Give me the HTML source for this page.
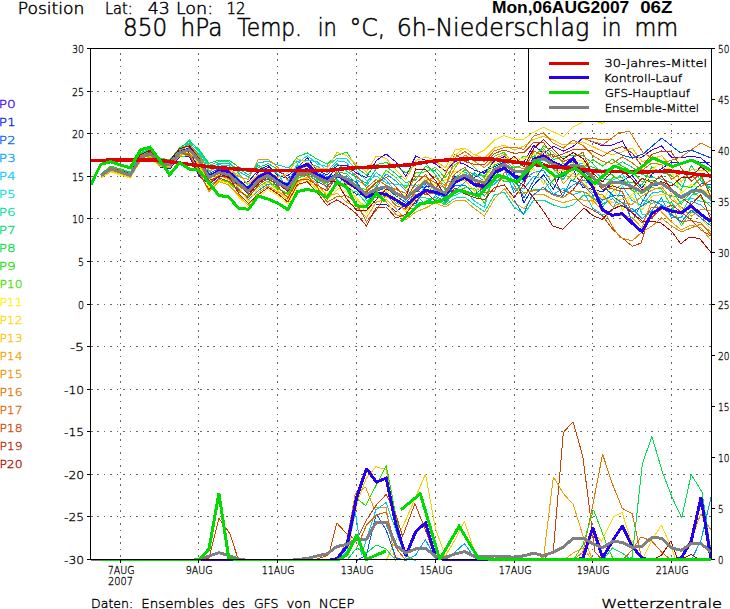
<!DOCTYPE html>
<html><head><meta charset="utf-8"><style>html,body{margin:0;padding:0;background:#fff;overflow:hidden}svg{display:block}</style></head>
<body><svg width="730" height="609" viewBox="0 0 730 609">
<rect width="730" height="609" fill="#fff"/>
<g stroke="#646464" stroke-width="1" stroke-dasharray="1.6 4.84" shape-rendering="crispEdges"><line x1="91" y1="516.5" x2="711" y2="516.5"/><line x1="91" y1="474.5" x2="711" y2="474.5"/><line x1="91" y1="431.5" x2="711" y2="431.5"/><line x1="91" y1="389.5" x2="711" y2="389.5"/><line x1="91" y1="346.5" x2="711" y2="346.5"/><line x1="91" y1="304.5" x2="711" y2="304.5"/><line x1="91" y1="261.5" x2="711" y2="261.5"/><line x1="91" y1="218.5" x2="711" y2="218.5"/><line x1="91" y1="176.5" x2="711" y2="176.5"/><line x1="91" y1="133.5" x2="711" y2="133.5"/><line x1="91" y1="91.5" x2="711" y2="91.5"/></g>
<g stroke="#646464" stroke-width="1" stroke-dasharray="1.6 4.84" shape-rendering="crispEdges"><line x1="120.5" y1="53" x2="120.5" y2="559"/><line x1="198.5" y1="53" x2="198.5" y2="559"/><line x1="277.5" y1="53" x2="277.5" y2="559"/><line x1="356.5" y1="53" x2="356.5" y2="559"/><line x1="435.5" y1="53" x2="435.5" y2="559"/><line x1="514.5" y1="53" x2="514.5" y2="559"/><line x1="592.5" y1="53" x2="592.5" y2="559"/><line x1="671.5" y1="53" x2="671.5" y2="559"/></g>
<defs><clipPath id="plotclip"><rect x="91" y="49" width="620" height="512"/></clipPath></defs><g clip-path="url(#plotclip)" shape-rendering="crispEdges"><polyline points="100.8,176.7 110.7,170.2 120.5,173.2 130.3,175.8 140.2,160.5 150.0,157.5 159.9,166.0 169.7,169.0 179.5,157.0 189.4,156.5 199.2,176.0 209.0,184.5 218.9,176.2 228.7,174.7 238.6,183.6 248.4,187.7 258.2,172.3 268.1,167.3 277.9,171.6 287.8,175.7 297.6,167.6 307.4,157.9 317.3,170.4 327.1,174.8 337.0,165.9 346.8,165.5 356.6,173.1 366.5,177.8 376.3,160.4 386.2,154.0 396.0,162.0 405.8,176.3 415.7,156.0 425.5,160.3 435.3,163.8 445.2,171.3 455.0,161.3 464.9,164.4 474.7,170.2 484.5,173.3 494.4,160.9 504.2,156.7 514.1,161.5 523.9,161.7 533.7,145.5 543.6,153.4 553.4,146.3 563.3,151.1 573.1,146.5 582.9,138.0 592.8,142.0 602.6,146.0 612.4,145.0 622.3,141.0 632.1,158.1 642.0,157.0 651.8,150.0 661.6,146.0 671.5,157.1 681.3,158.0 691.2,156.0 701.0,158.0 710.8,166.8" fill="none" stroke="#3c00ff" stroke-width="1" stroke-linejoin="miter" stroke-miterlimit="2"/>
<polyline points="100.8,176.1 110.7,170.9 120.5,174.2 130.3,176.6 140.2,159.6 150.0,155.2 159.9,167.0 169.7,168.5 179.5,156.0 189.4,152.3 199.2,168.4 209.0,178.1 218.9,173.0 228.7,177.7 238.6,184.6 248.4,181.7 258.2,170.1 268.1,165.5 277.9,175.6 287.8,178.2 297.6,171.1 307.4,168.2 317.3,177.5 327.1,178.3 337.0,168.2 346.8,186.8 356.6,194.3 366.5,194.4 376.3,204.5 386.2,204.3 396.0,211.6 405.8,204.5 415.7,203.6 425.5,186.8 435.3,187.2 445.2,193.0 455.0,176.1 464.9,177.9 474.7,177.2 484.5,170.6 494.4,166.9 504.2,162.1 514.1,172.5 523.9,203.3 533.7,185.1 543.6,174.7 553.4,189.4 563.3,168.3 573.1,169.6 582.9,187.3 592.8,189.3 602.6,192.0 612.4,182.2 622.3,180.6 632.1,175.5 642.0,188.0 651.8,174.3 661.6,168.7 671.5,162.0 681.3,163.3 691.2,160.7 701.0,162.3 710.8,162.0" fill="none" stroke="#0020ff" stroke-width="1" stroke-linejoin="miter" stroke-miterlimit="2"/>
<polyline points="100.8,176.2 110.7,169.2 120.5,172.0 130.3,175.2 140.2,157.4 150.0,154.0 159.9,162.8 169.7,164.7 179.5,153.2 189.4,149.6 199.2,159.4 209.0,173.4 218.9,168.9 228.7,173.0 238.6,181.2 248.4,189.3 258.2,180.3 268.1,179.5 277.9,183.9 287.8,190.4 297.6,175.2 307.4,173.8 317.3,181.9 327.1,186.4 337.0,177.6 346.8,177.8 356.6,182.0 366.5,195.8 376.3,191.3 386.2,187.6 396.0,196.1 405.8,202.5 415.7,192.5 425.5,184.6 435.3,194.2 445.2,197.1 455.0,185.7 464.9,185.0 474.7,194.4 484.5,186.9 494.4,177.9 504.2,165.5 514.1,178.0 523.9,198.1 533.7,180.5 543.6,166.6 553.4,166.0 563.3,176.1 573.1,166.8 582.9,170.5 592.8,178.7 602.6,184.6 612.4,195.1 622.3,195.2 632.1,222.0 642.0,202.4 651.8,185.6 661.6,184.7 671.5,191.7 681.3,199.0 691.2,193.0 701.0,183.9 710.8,184.2" fill="none" stroke="#0060ff" stroke-width="1" stroke-linejoin="miter" stroke-miterlimit="2"/>
<polyline points="100.8,175.6 110.7,169.0 120.5,172.1 130.3,174.6 140.2,156.0 150.0,152.8 159.9,161.0 169.7,163.9 179.5,152.0 189.4,149.9 199.2,160.2 209.0,177.5 218.9,172.6 228.7,175.2 238.6,188.5 248.4,199.5 258.2,190.6 268.1,184.0 277.9,185.0 287.8,187.8 297.6,176.9 307.4,171.1 317.3,172.2 327.1,176.6 337.0,184.5 346.8,175.9 356.6,185.3 366.5,193.4 376.3,187.4 386.2,173.9 396.0,181.0 405.8,190.9 415.7,194.3 425.5,204.5 435.3,195.8 445.2,201.6 455.0,190.3 464.9,182.4 474.7,172.7 484.5,182.1 494.4,170.6 504.2,167.5 514.1,193.2 523.9,180.2 533.7,172.2 543.6,170.5 553.4,184.7 563.3,192.8 573.1,185.1 582.9,179.8 592.8,186.2 602.6,204.1 612.4,198.7 622.3,206.5 632.1,208.5 642.0,218.6 651.8,210.9 661.6,197.8 671.5,217.8 681.3,217.6 691.2,201.2 701.0,205.1 710.8,214.8" fill="none" stroke="#00a0ff" stroke-width="1" stroke-linejoin="miter" stroke-miterlimit="2"/>
<polyline points="100.8,177.2 110.7,169.9 120.5,173.5 130.3,176.9 140.2,158.5 150.0,156.0 159.9,165.5 169.7,164.9 179.5,154.6 189.4,146.8 199.2,153.8 209.0,172.0 218.9,164.8 228.7,165.6 238.6,171.2 248.4,177.1 258.2,162.7 268.1,161.4 277.9,165.0 287.8,167.7 297.6,161.2 307.4,160.2 317.3,161.7 327.1,170.9 337.0,160.9 346.8,162.3 356.6,180.0 366.5,185.6 376.3,172.4 386.2,180.3 396.0,191.9 405.8,200.7 415.7,206.3 425.5,182.8 435.3,190.2 445.2,194.6 455.0,181.9 464.9,171.9 474.7,178.9 484.5,189.7 494.4,184.1 504.2,175.2 514.1,189.0 523.9,188.5 533.7,176.2 543.6,179.3 553.4,194.4 563.3,188.2 573.1,194.6 582.9,191.3 592.8,208.0 602.6,215.0 612.4,210.7 622.3,186.2 632.1,200.6 642.0,206.1 651.8,193.1 661.6,191.7 671.5,196.5 681.3,195.8 691.2,189.9 701.0,190.3 710.8,198.5" fill="none" stroke="#00c8ff" stroke-width="1" stroke-linejoin="miter" stroke-miterlimit="2"/>
<polyline points="100.8,174.5 110.7,166.4 120.5,169.4 130.3,172.8 140.2,154.3 150.0,149.6 159.9,160.5 169.7,161.9 179.5,149.9 189.4,142.5 199.2,152.4 209.0,167.1 218.9,166.3 228.7,167.3 238.6,178.4 248.4,190.6 258.2,179.4 268.1,174.7 277.9,181.6 287.8,182.6 297.6,163.5 307.4,155.5 317.3,164.0 327.1,166.5 337.0,158.1 346.8,159.0 356.6,170.5 366.5,180.6 376.3,176.0 386.2,183.0 396.0,184.2 405.8,185.6 415.7,186.1 425.5,181.6 435.3,191.4 445.2,198.5 455.0,195.4 464.9,190.8 474.7,201.2 484.5,207.5 494.4,168.3 504.2,163.4 514.1,185.1 523.9,170.6 533.7,162.6 543.6,160.3 553.4,164.2 563.3,167.3 573.1,165.0 582.9,163.4 592.8,170.4 602.6,178.4 612.4,180.5 622.3,174.3 632.1,186.8 642.0,214.2 651.8,215.0 661.6,204.6 671.5,209.9 681.3,201.3 691.2,198.1 701.0,201.2 710.8,203.2" fill="none" stroke="#00e0e0" stroke-width="1" stroke-linejoin="miter" stroke-miterlimit="2"/>
<polyline points="100.8,174.9 110.7,167.5 120.5,170.5 130.3,172.4 140.2,153.0 150.0,148.8 159.9,158.7 169.7,161.3 179.5,149.3 189.4,140.0 199.2,151.0 209.0,165.4 218.9,161.7 228.7,161.9 238.6,173.1 248.4,185.8 258.2,178.0 268.1,169.1 277.9,173.7 287.8,189.4 297.6,174.7 307.4,172.3 317.3,178.2 327.1,179.7 337.0,179.6 346.8,189.6 356.6,191.7 366.5,203.6 376.3,188.9 386.2,186.7 396.0,194.4 405.8,198.2 415.7,196.4 425.5,197.9 435.3,199.2 445.2,205.1 455.0,198.1 464.9,197.1 474.7,204.9 484.5,211.7 494.4,194.9 504.2,192.2 514.1,207.0 523.9,214.4 533.7,200.0 543.6,200.0 553.4,205.0 563.3,208.0 573.1,205.0 582.9,195.6 592.8,196.3 602.6,207.6 612.4,191.7 622.3,184.0 632.1,185.1 642.0,199.1 651.8,203.2 661.6,201.1 671.5,202.7 681.3,213.9 691.2,195.3 701.0,192.0 710.8,200.4" fill="none" stroke="#00e0a0" stroke-width="1" stroke-linejoin="miter" stroke-miterlimit="2"/>
<polyline points="100.8,174.2 110.7,166.8 120.5,169.8 130.3,173.2 140.2,156.5 150.0,151.0 159.9,159.9 169.7,163.0 179.5,151.0 189.4,143.7 199.2,155.1 209.0,168.9 218.9,163.3 228.7,163.8 238.6,169.1 248.4,174.6 258.2,165.3 268.1,170.7 277.9,179.0 287.8,184.6 297.6,165.6 307.4,164.5 317.3,166.3 327.1,172.9 337.0,163.5 346.8,171.2 356.6,177.9 366.5,183.2 376.3,168.6 386.2,166.5 396.0,174.0 405.8,182.6 415.7,180.1 425.5,166.4 435.3,170.9 445.2,183.2 455.0,179.5 464.9,175.0 474.7,185.6 484.5,196.1 494.4,180.9 504.2,178.3 514.1,169.8 523.9,173.7 533.7,165.4 543.6,158.4 553.4,168.8 563.3,179.8 573.1,163.9 582.9,165.4 592.8,167.1 602.6,170.6 612.4,167.6 622.3,161.7 632.1,167.3 642.0,174.4 651.8,177.5 661.6,179.1 671.5,182.8 681.3,189.8 691.2,165.2 701.0,180.9 710.8,187.9" fill="none" stroke="#00d870" stroke-width="1" stroke-linejoin="miter" stroke-miterlimit="2"/>
<polyline points="100.8,174.0 110.7,166.0 120.5,169.0 130.3,172.0 140.2,153.7 150.0,148.0 159.9,158.0 169.7,160.0 179.5,148.0 189.4,141.3 199.2,149.5 209.0,163.5 218.9,160.0 228.7,160.0 238.6,167.0 248.4,172.0 258.2,167.8 268.1,163.5 277.9,169.5 287.8,170.5 297.6,156.5 307.4,153.0 317.3,159.3 327.1,164.2 337.0,155.3 346.8,152.0 356.6,167.8 366.5,175.0 376.3,164.6 386.2,162.5 396.0,166.1 405.8,173.0 415.7,164.8 425.5,163.4 435.3,174.2 445.2,190.2 455.0,178.2 464.9,169.7 474.7,175.1 484.5,175.9 494.4,165.1 504.2,160.5 514.1,168.2 523.9,164.3 533.7,156.0 543.6,148.4 553.4,159.4 563.3,156.6 573.1,155.2 582.9,155.4 592.8,163.5 602.6,174.7 612.4,174.9 622.3,182.5 632.1,182.4 642.0,185.1 651.8,167.0 661.6,172.5 671.5,175.3 681.3,186.1 691.2,187.5 701.0,177.6 710.8,191.3" fill="none" stroke="#00e040" stroke-width="1" stroke-linejoin="miter" stroke-miterlimit="2"/>
<polyline points="100.8,177.4 110.7,171.2 120.5,174.6 130.3,176.3 140.2,159.2 150.0,155.6 159.9,164.6 169.7,166.1 179.5,153.8 189.4,147.7 199.2,157.4 209.0,174.7 218.9,170.1 228.7,171.8 238.6,179.9 248.4,191.5 258.2,181.0 268.1,177.0 277.9,187.6 287.8,194.7 297.6,179.1 307.4,171.9 317.3,179.2 327.1,184.4 337.0,172.1 346.8,173.7 356.6,183.8 366.5,200.6 376.3,197.2 386.2,192.6 396.0,203.0 405.8,206.8 415.7,209.1 425.5,201.1 435.3,197.5 445.2,203.4 455.0,192.8 464.9,187.8 474.7,188.3 484.5,203.5 494.4,175.1 504.2,181.5 514.1,181.4 523.9,193.2 533.7,189.8 543.6,189.2 553.4,180.2 563.3,172.8 573.1,180.7 582.9,168.2 592.8,159.6 602.6,166.1 612.4,159.2 622.3,166.2 632.1,171.6 642.0,181.8 651.8,180.3 661.6,183.4 671.5,190.3 681.3,204.0 691.2,191.5 701.0,197.7 710.8,206.7" fill="none" stroke="#20e000" stroke-width="1" stroke-linejoin="miter" stroke-miterlimit="2"/>
<polyline points="100.8,175.9 110.7,169.1 120.5,171.9 130.3,175.5 140.2,158.8 150.0,154.5 159.9,163.2 169.7,167.0 179.5,156.5 189.4,155.6 199.2,170.2 209.0,186.1 218.9,179.3 228.7,182.3 238.6,191.6 248.4,196.1 258.2,186.9 268.1,180.9 277.9,189.0 287.8,193.1 297.6,178.0 307.4,174.7 317.3,180.5 327.1,182.8 337.0,173.7 346.8,179.0 356.6,186.2 366.5,190.0 376.3,185.2 386.2,170.3 396.0,177.6 405.8,188.3 415.7,172.9 425.5,171.9 435.3,167.4 445.2,177.6 455.0,164.7 464.9,158.3 474.7,167.5 484.5,178.2 494.4,156.1 504.2,152.4 514.1,164.0 523.9,155.9 533.7,158.1 543.6,145.7 553.4,152.1 563.3,163.7 573.1,162.2 582.9,166.7 592.8,180.8 602.6,187.7 612.4,178.0 622.3,177.8 632.1,190.8 642.0,193.6 651.8,187.7 661.6,189.0 671.5,206.2 681.3,225.7 691.2,212.2 701.0,213.6 710.8,224.1" fill="none" stroke="#40e000" stroke-width="1" stroke-linejoin="miter" stroke-miterlimit="2"/>
<polyline points="100.8,178.0 110.7,172.0 120.5,175.0 130.3,178.0 140.2,160.0 150.0,154.8 159.9,164.2 169.7,165.4 179.5,155.0 189.4,151.6 199.2,163.7 209.0,187.9 218.9,180.5 228.7,183.6 238.6,197.0 248.4,207.5 258.2,197.0 268.1,189.4 277.9,195.6 287.8,204.0 297.6,185.9 307.4,180.4 317.3,188.8 327.1,193.6 337.0,187.3 346.8,192.5 356.6,197.1 366.5,213.9 376.3,193.1 386.2,190.7 396.0,198.2 405.8,195.3 415.7,188.5 425.5,178.8 435.3,185.3 445.2,180.5 455.0,170.9 464.9,173.8 474.7,180.0 484.5,180.3 494.4,163.1 504.2,158.7 514.1,158.9 523.9,158.9 533.7,153.7 543.6,157.3 553.4,161.4 563.3,165.6 573.1,160.1 582.9,161.1 592.8,183.3 602.6,200.8 612.4,183.7 622.3,210.7 632.1,193.7 642.0,192.0 651.8,170.8 661.6,160.3 671.5,171.1 681.3,193.1 691.2,184.5 701.0,188.9 710.8,194.3" fill="none" stroke="#fff000" stroke-width="1" stroke-linejoin="miter" stroke-miterlimit="2"/>
<polyline points="100.8,176.9 110.7,170.6 120.5,172.9 130.3,177.3 140.2,161.0 150.0,158.0 159.9,166.5 169.7,166.5 179.5,152.4 189.4,149.2 199.2,166.7 209.0,181.6 218.9,174.4 228.7,179.9 238.6,187.1 248.4,201.4 258.2,188.7 268.1,182.4 277.9,190.6 287.8,200.0 297.6,183.0 307.4,178.0 317.3,190.8 327.1,199.2 337.0,190.2 346.8,180.2 356.6,200.1 366.5,206.8 376.3,195.0 386.2,196.9 396.0,200.5 405.8,211.7 415.7,198.6 425.5,189.3 435.3,188.5 445.2,193.6 455.0,180.5 464.9,180.0 474.7,191.3 484.5,183.2 494.4,169.3 504.2,169.8 514.1,175.0 523.9,176.7 533.7,168.6 543.6,184.1 553.4,172.2 563.3,170.1 573.1,176.6 582.9,173.3 592.8,203.9 602.6,197.6 612.4,202.5 622.3,198.8 632.1,197.0 642.0,210.1 651.8,196.3 661.6,194.6 671.5,193.9 681.3,210.3 691.2,208.3 701.0,218.2 710.8,229.2" fill="none" stroke="#ffd800" stroke-width="1" stroke-linejoin="miter" stroke-miterlimit="2"/>
<polyline points="100.8,177.7 110.7,171.6 120.5,173.9 130.3,177.6 140.2,161.5 150.0,156.5 159.9,163.5 169.7,167.4 179.5,154.2 189.4,150.4 199.2,165.1 209.0,179.1 218.9,172.0 228.7,168.9 238.6,175.0 248.4,183.9 258.2,174.4 268.1,172.2 277.9,177.3 287.8,173.2 297.6,158.9 307.4,162.4 317.3,168.4 327.1,168.8 337.0,152.3 346.8,155.6 356.6,165.0 366.5,172.0 376.3,156.0 386.2,158.3 396.0,170.1 405.8,179.6 415.7,160.5 425.5,157.0 435.3,160.0 445.2,168.0 455.0,150.0 464.9,148.0 474.7,155.0 484.5,158.0 494.4,148.0 504.2,145.0 514.1,150.2 523.9,146.0 533.7,139.3 543.6,136.4 553.4,140.0 563.3,145.0 573.1,143.3 582.9,141.8 592.8,146.7 602.6,151.4 612.4,154.7 622.3,151.8 632.1,148.0 642.0,161.6 651.8,158.9 661.6,155.7 671.5,166.6 681.3,182.1 691.2,169.6 701.0,170.3 710.8,171.5" fill="none" stroke="#ffc000" stroke-width="1" stroke-linejoin="miter" stroke-miterlimit="2"/>
<polyline points="100.8,175.8 110.7,169.7 120.5,172.3 130.3,176.0 140.2,162.0 150.0,157.0 159.9,165.0 169.7,167.9 179.5,155.5 189.4,153.1 199.2,172.0 209.0,191.5 218.9,181.7 228.7,185.0 238.6,195.1 248.4,205.4 258.2,192.7 268.1,185.8 277.9,192.2 287.8,196.4 297.6,181.6 307.4,176.8 317.3,183.5 327.1,196.3 337.0,193.3 346.8,202.4 356.6,206.8 366.5,217.8 376.3,201.9 386.2,199.2 396.0,208.6 405.8,220.0 415.7,212.0 425.5,208.0 435.3,203.0 445.2,207.0 455.0,201.0 464.9,200.5 474.7,208.7 484.5,216.0 494.4,198.8 504.2,188.5 514.1,202.2 523.9,208.8 533.7,194.8 543.6,194.5 553.4,199.6 563.3,202.7 573.1,199.7 582.9,200.0 592.8,200.0 602.6,211.2 612.4,215.0 622.3,215.0 632.1,217.3 642.0,228.0 651.8,199.7 661.6,212.0 671.5,222.0 681.3,230.0 691.2,225.0 701.0,228.0 710.8,240.0" fill="none" stroke="#f0a000" stroke-width="1" stroke-linejoin="miter" stroke-miterlimit="2"/>
<polyline points="100.8,176.4 110.7,168.7 120.5,171.7 130.3,174.8 140.2,157.8 150.0,152.3 159.9,163.0 169.7,164.3 179.5,151.5 189.4,144.8 199.2,156.3 209.0,170.5 218.9,167.7 228.7,170.4 238.6,176.7 248.4,179.5 258.2,160.0 268.1,159.3 277.9,167.3 287.8,180.5 297.6,169.4 307.4,166.4 317.3,173.9 327.1,181.7 337.0,174.7 346.8,184.3 356.6,187.4 366.5,198.0 376.3,189.8 386.2,201.7 396.0,214.7 405.8,217.1 415.7,191.0 425.5,180.5 435.3,177.3 445.2,185.7 455.0,167.9 464.9,155.0 474.7,161.5 484.5,167.6 494.4,158.6 504.2,154.6 514.1,166.2 523.9,168.9 533.7,159.8 543.6,151.0 553.4,163.1 563.3,183.9 573.1,172.9 582.9,183.4 592.8,192.7 602.6,194.7 612.4,206.5 622.3,202.6 632.1,204.5 642.0,196.1 651.8,190.3 661.6,186.7 671.5,199.5 681.3,207.0 691.2,216.3 701.0,209.2 710.8,210.5" fill="none" stroke="#f09000" stroke-width="1" stroke-linejoin="miter" stroke-miterlimit="2"/>
<polyline points="100.8,174.7 110.7,167.2 120.5,170.1 130.3,173.9 140.2,155.5 150.0,153.3 159.9,162.4 169.7,162.4 179.5,152.8 189.4,153.9 199.2,161.4 209.0,183.0 218.9,175.2 228.7,178.7 238.6,185.8 248.4,193.3 258.2,176.3 268.1,175.4 277.9,182.4 287.8,186.3 297.6,172.6 307.4,173.0 317.3,175.4 327.1,188.6 337.0,170.3 346.8,168.4 356.6,175.6 366.5,187.9 376.3,179.4 386.2,185.2 396.0,189.7 405.8,193.2 415.7,176.7 425.5,176.8 435.3,182.9 445.2,188.1 455.0,157.7 464.9,151.6 474.7,158.3 484.5,161.3 494.4,150.8 504.2,147.6 514.1,147.0 523.9,149.4 533.7,136.0 543.6,133.0 553.4,143.2 563.3,148.1 573.1,140.0 582.9,145.5 592.8,155.5 602.6,161.4 612.4,163.5 622.3,156.9 632.1,162.8 642.0,170.4 651.8,163.1 661.6,164.6 671.5,179.2 681.3,173.1 691.2,173.7 701.0,186.6 710.8,180.2" fill="none" stroke="#e07000" stroke-width="1" stroke-linejoin="miter" stroke-miterlimit="2"/>
<polyline points="100.8,175.1 110.7,168.2 120.5,171.4 130.3,175.1 140.2,158.0 150.0,154.2 159.9,163.8 169.7,165.1 179.5,150.5 189.4,148.5 199.2,160.7 209.0,175.9 218.9,171.2 228.7,174.0 238.6,183.0 248.4,192.2 258.2,182.2 268.1,173.6 277.9,180.4 287.8,188.7 297.6,176.0 307.4,175.7 317.3,187.0 327.1,202.3 337.0,196.5 346.8,195.7 356.6,203.4 366.5,221.8 376.3,210.0 386.2,194.7 396.0,205.7 405.8,209.1 415.7,190.0 425.5,194.8 435.3,192.7 445.2,191.9 455.0,173.7 464.9,167.2 474.7,181.3 484.5,192.7 494.4,191.1 504.2,172.4 514.1,170.9 523.9,171.8 533.7,151.1 543.6,155.5 553.4,154.7 563.3,161.5 573.1,157.7 582.9,152.3 592.8,175.7 602.6,186.4 612.4,188.7 622.3,191.9 632.1,212.8 642.0,223.2 651.8,207.0 661.6,208.2 671.5,213.8 681.3,221.6 691.2,220.6 701.0,223.0 710.8,234.5" fill="none" stroke="#e06000" stroke-width="1" stroke-linejoin="miter" stroke-miterlimit="2"/>
<polyline points="100.8,175.3 110.7,168.5 120.5,171.1 130.3,174.3 140.2,157.0 150.0,153.7 159.9,162.0 169.7,165.7 179.5,153.5 189.4,154.7 199.2,174.0 209.0,189.6 218.9,178.2 228.7,181.1 238.6,190.0 248.4,197.8 258.2,185.1 268.1,178.2 277.9,186.2 287.8,198.2 297.6,180.3 307.4,179.2 317.3,185.2 327.1,191.0 337.0,175.8 346.8,182.1 356.6,189.4 366.5,191.8 376.3,182.4 386.2,177.2 396.0,187.1 405.8,199.2 415.7,183.3 425.5,174.5 435.3,189.1 445.2,174.5 455.0,153.9 464.9,161.5 474.7,164.6 484.5,164.6 494.4,153.5 504.2,150.0 514.1,153.2 523.9,152.7 533.7,142.5 543.6,142.7 553.4,157.2 563.3,153.9 573.1,149.6 582.9,149.0 592.8,151.2 602.6,156.5 612.4,149.9 622.3,146.5 632.1,153.1 642.0,166.1 651.8,154.5 661.6,151.0 671.5,152.0 681.3,168.3 691.2,181.2 701.0,174.1 710.8,196.9" fill="none" stroke="#d04000" stroke-width="1" stroke-linejoin="miter" stroke-miterlimit="2"/>
<polyline points="100.8,175.7 110.7,169.4 120.5,172.6 130.3,175.3 140.2,158.2 150.0,151.6 159.9,161.5 169.7,163.5 179.5,153.0 189.4,151.0 199.2,162.4 209.0,180.3 218.9,177.2 228.7,175.9 238.6,193.4 248.4,203.3 258.2,194.8 268.1,187.5 277.9,193.8 287.8,202.0 297.6,184.4 307.4,181.7 317.3,192.8 327.1,205.4 337.0,199.8 346.8,206.0 356.6,214.0 366.5,226.0 376.3,207.2 386.2,207.0 396.0,218.0 405.8,214.3 415.7,201.0 425.5,192.0 435.3,201.1 445.2,200.0 455.0,187.9 464.9,193.9 474.7,197.7 484.5,199.7 494.4,187.5 504.2,184.9 514.1,197.6 523.9,184.2 533.7,160.9 543.6,163.1 553.4,176.0 563.3,197.7 573.1,189.7 582.9,176.4 592.8,177.3 602.6,189.7 612.4,185.9 622.3,188.9 632.1,188.4 642.0,178.3 651.8,182.7 661.6,176.0 671.5,188.6 681.3,197.6 691.2,204.6 701.0,194.6 710.8,219.3" fill="none" stroke="#c02000" stroke-width="1" stroke-linejoin="miter" stroke-miterlimit="2"/>
<polyline points="100.8,175.4 110.7,167.9 120.5,170.8 130.3,173.6 140.2,154.9 150.0,150.3 159.9,159.3 169.7,160.6 179.5,148.7 189.4,145.8 199.2,158.5 209.0,176.9 218.9,173.6 228.7,176.7 238.6,182.3 248.4,194.6 258.2,183.6 268.1,176.0 277.9,183.0 287.8,191.7 297.6,173.9 307.4,169.7 317.3,176.7 327.1,180.9 337.0,182.0 346.8,199.0 356.6,210.3 366.5,210.3 376.3,199.5 386.2,189.0 396.0,193.3 405.8,197.1 415.7,169.0 425.5,169.3 435.3,180.2 445.2,195.8 455.0,183.7 464.9,176.1 474.7,183.3 484.5,184.7 494.4,172.7 504.2,164.3 514.1,156.1 523.9,166.7 533.7,148.4 543.6,139.6 553.4,149.2 563.3,159.2 573.1,152.5 582.9,158.4 592.8,173.3 602.6,181.8 612.4,171.4 622.3,170.5 632.1,179.2 642.0,190.4 651.8,184.2 661.6,181.7 671.5,185.9 681.3,177.7 691.2,177.6 701.0,166.4 710.8,175.9" fill="none" stroke="#b00000" stroke-width="1" stroke-linejoin="miter" stroke-miterlimit="2"/>
<polyline points="435.3,160.0 445.2,172.5 455.0,155.0 464.9,148.0 474.7,155.0 484.5,150.0 494.4,140.0 504.2,135.6 514.1,139.0 523.9,139.0 533.7,132.0 543.6,127.4 553.4,132.0 563.3,136.7 573.1,127.0 582.9,122.0 592.8,120.7 602.6,123.3 612.4,118.0 622.3,115.0" fill="none" stroke="#f0e000" stroke-width="1" stroke-linejoin="miter" stroke-miterlimit="2"/>
<polyline points="504.2,178.0 514.1,180.0 523.9,185.0 529.9,193.1 544.6,212.8 552.8,226.0 562.7,229.3 574.2,217.8 584.0,207.9 592.2,215.3 602.1,219.4 612.0,209.6 622.0,205.0 642.8,221.4 660.0,222.2 672.0,231.7 680.7,243.8 689.3,237.0 699.7,238.6 710.9,252.4" fill="none" stroke="#b00000" stroke-width="1" stroke-linejoin="miter" stroke-miterlimit="2"/>
<polyline points="563.3,190.0 573.1,195.0 582.9,205.0 592.8,210.0 602.6,216.0 612.4,229.0 622.3,238.0 632.4,246.4 641.0,243.0 648.0,221.0 660.0,210.0 672.0,205.0 681.0,212.0 691.0,220.0 701.0,230.0 711.0,236.0" fill="none" stroke="#d04000" stroke-width="1" stroke-linejoin="miter" stroke-miterlimit="2"/>
<polyline points="514.1,185.0 520.0,194.0 529.9,191.5 543.0,189.0 552.8,194.8 562.7,198.0 572.5,190.7 585.7,192.3 602.1,206.3 612.0,226.0 620.0,237.5 632.0,241.0 642.0,232.0 652.0,226.0 661.6,218.0 671.5,226.0 681.3,232.0 691.0,228.0 701.0,224.0 711.0,232.0" fill="none" stroke="#e08000" stroke-width="1" stroke-linejoin="miter" stroke-miterlimit="2"/>
<polyline points="514.1,200.0 520.0,209.6 523.3,214.5 531.5,196.4 543.0,187.4 552.8,194.0 562.7,196.4 570.9,180.0 582.9,185.0 592.8,195.0 602.6,200.0 612.4,196.0 622.3,203.0 632.1,212.0 642.0,206.0 651.8,200.0 661.6,205.0 671.5,215.0 681.3,222.0 691.2,210.0 701.0,218.0 711.0,226.0" fill="none" stroke="#0080ff" stroke-width="1" stroke-linejoin="miter" stroke-miterlimit="2"/>
<polyline points="612.4,140.0 581.5,138.0 602.9,144.7 619.0,132.7 629.6,131.4 643.0,152.8 652.0,158.0 662.0,163.0 672.0,160.0 681.0,157.0 691.0,150.0 701.0,143.0 711.0,148.0" fill="none" stroke="#e07000" stroke-width="1" stroke-linejoin="miter" stroke-miterlimit="2"/>
<polyline points="612.4,150.0 622.0,155.0 632.0,158.0 643.0,154.0 661.7,138.0 680.4,152.8 691.0,150.0 711.0,158.0" fill="none" stroke="#0050ff" stroke-width="1" stroke-linejoin="miter" stroke-miterlimit="2"/>
<polyline points="199.2,560.5 209.0,558.0 218.9,518.4 225.2,527.0 230.0,534.0 238.6,560.5" fill="none" stroke="#d04000" stroke-width="1" stroke-linejoin="miter" stroke-miterlimit="2"/>
<polyline points="337.0,560.5 347.0,555.0 357.4,501.5 366.5,478.0 375.9,466.7 386.2,469.7 396.0,526.0 405.8,556.0 415.7,560.5" fill="none" stroke="#ffc000" stroke-width="1" stroke-linejoin="miter" stroke-miterlimit="2"/>
<polyline points="386.1,560.5 396.0,540.0 405.8,520.0 415.7,497.0 425.5,474.0 435.3,528.0 445.2,556.0 455.0,540.0 464.4,521.0 474.7,552.0 484.5,560.5" fill="none" stroke="#f0d000" stroke-width="1" stroke-linejoin="miter" stroke-miterlimit="2"/>
<polyline points="337.0,560.5 346.8,553.0 355.4,497.4 365.6,505.6 376.3,485.0 386.2,465.6 396.4,518.0 404.6,555.0 415.7,560.5" fill="none" stroke="#20e000" stroke-width="1" stroke-linejoin="miter" stroke-miterlimit="2"/>
<polyline points="337.0,560.5 346.8,540.0 355.4,493.3 365.6,487.2 373.8,507.7 386.2,507.7 394.4,557.0 405.8,560.5" fill="none" stroke="#f09000" stroke-width="1" stroke-linejoin="miter" stroke-miterlimit="2"/>
<polyline points="307.4,560.5 317.3,559.0 328.7,554.9 336.9,523.0 347.2,534.4 356.6,540.0 366.5,520.0 376.3,505.0 386.2,494.4 396.0,515.0 402.6,536.4 414.9,503.6 425.5,530.0 434.6,556.0 445.2,560.5" fill="none" stroke="#d04000" stroke-width="1" stroke-linejoin="miter" stroke-miterlimit="2"/>
<polyline points="337.0,560.5 346.8,552.0 355.4,511.8 361.5,554.9 375.9,509.7 386.2,502.6 396.4,532.3 405.8,558.0 415.7,560.5" fill="none" stroke="#00c8ff" stroke-width="1" stroke-linejoin="miter" stroke-miterlimit="2"/>
<polyline points="356.6,560.5 366.5,555.0 376.3,513.8 386.1,530.0 396.0,558.0 405.8,560.5" fill="none" stroke="#0060ff" stroke-width="1" stroke-linejoin="miter" stroke-miterlimit="2"/>
<polyline points="405.8,560.5 415.7,555.0 425.4,539.5 435.3,558.0 445.2,560.5 455.0,552.0 464.4,543.6 474.7,558.0 484.5,560.5" fill="none" stroke="#00a0ff" stroke-width="1" stroke-linejoin="miter" stroke-miterlimit="2"/>
<polyline points="346.8,560.5 356.6,548.0 366.5,525.0 376.3,515.0 386.1,512.0 396.0,548.0 405.8,560.5" fill="none" stroke="#e06000" stroke-width="1" stroke-linejoin="miter" stroke-miterlimit="2"/>
<polyline points="346.8,560.5 356.6,548.0 366.5,553.0 376.3,545.0 386.1,549.0 396.0,560.5" fill="none" stroke="#00e040" stroke-width="1" stroke-linejoin="miter" stroke-miterlimit="2"/>
<polyline points="533.7,560.5 543.6,559.0 553.4,550.4 563.3,432.5 573.1,421.7 582.9,456.9 590.8,519.2 595.0,551.8 602.6,560.5" fill="none" stroke="#d04000" stroke-width="1" stroke-linejoin="miter" stroke-miterlimit="2"/>
<polyline points="533.7,560.5 543.6,557.2 553.4,476.7 563.3,493.5 573.1,504.3 582.9,535.5 592.8,560.5" fill="none" stroke="#f0a000" stroke-width="1" stroke-linejoin="miter" stroke-miterlimit="2"/>
<polyline points="573.1,560.5 582.9,552.0 592.8,505.0 602.6,454.2 612.4,484.0 622.3,508.4 632.1,513.8 635.7,530.0 642.0,560.5" fill="none" stroke="#e07000" stroke-width="1" stroke-linejoin="miter" stroke-miterlimit="2"/>
<polyline points="573.1,560.5 582.9,545.0 593.5,509.8 600.3,527.4 608.4,549.0 614.0,560.5" fill="none" stroke="#20e000" stroke-width="1" stroke-linejoin="miter" stroke-miterlimit="2"/>
<polyline points="582.9,560.5 592.8,532.8 601.6,541.0 613.8,516.5 622.1,512.5 630.2,538.2 642.0,560.5" fill="none" stroke="#ffd800" stroke-width="1" stroke-linejoin="miter" stroke-miterlimit="2"/>
<polyline points="622.3,560.5 632.1,557.2 642.4,463.7 651.9,436.6 662.8,473.2 672.2,497.6 681.7,517.9 691.2,474.5 702.0,492.1 711.0,551.8" fill="none" stroke="#00e050" stroke-width="1" stroke-linejoin="miter" stroke-miterlimit="2"/>
<polyline points="642.0,560.5 651.8,540.0 661.4,525.2 670.9,546.3 676.0,560.5" fill="none" stroke="#ffd800" stroke-width="1" stroke-linejoin="miter" stroke-miterlimit="2"/>
<polyline points="681.3,560.5 691.2,540.0 700.7,513.8 711.0,530.0" fill="none" stroke="#f09000" stroke-width="1" stroke-linejoin="miter" stroke-miterlimit="2"/>
<polyline points="691.2,560.5 701.0,540.0 711.0,497.6" fill="none" stroke="#00a0ff" stroke-width="1" stroke-linejoin="miter" stroke-miterlimit="2"/>
<polyline points="651.8,560.5 661.6,555.0 670.9,541.0 678.0,560.5 691.2,554.5 701.0,560.5" fill="none" stroke="#b00000" stroke-width="1" stroke-linejoin="miter" stroke-miterlimit="2"/>
<polyline points="622.3,560.5 632.1,550.0 641.0,536.9 651.8,541.0 661.6,552.0 671.5,560.5" fill="none" stroke="#e06000" stroke-width="1" stroke-linejoin="miter" stroke-miterlimit="2"/>
<polyline points="563.3,560.5 573.1,553.0 582.9,548.0 592.8,560.5" fill="none" stroke="#f0a000" stroke-width="1" stroke-linejoin="miter" stroke-miterlimit="2"/>
<polyline points="602.6,560.5 612.4,548.0 622.3,553.0 632.1,560.5" fill="none" stroke="#00d870" stroke-width="1" stroke-linejoin="miter" stroke-miterlimit="2"/>
<polyline points="100.8,560.5 110.7,560.5 120.5,560.5 130.3,560.5 140.2,560.5 150.0,560.5 159.9,560.5 169.7,560.5 179.5,560.5 189.4,560.5 199.2,560.5 209.0,560.5 218.9,560.5 228.7,560.5 238.6,560.5 248.4,560.5 258.2,560.5 268.1,560.5 277.9,560.5 287.8,560.5 297.6,560.5 307.4,560.5 317.3,560.5 327.1,560.5 337.0,558.7 346.8,546.6 356.6,497.5 366.5,468.5 376.3,482.0 386.2,478.2 396.0,525.0 405.8,556.0 415.7,531.6 425.5,523.0 435.3,556.0 445.2,560.5 455.0,560.5 464.9,560.5 474.7,560.5 484.5,560.5 494.4,560.5 504.2,560.5 514.1,560.5 523.9,560.5 533.7,560.5 543.6,560.5 553.4,560.5 563.3,560.5 573.1,560.5 582.9,558.0 592.8,527.4 602.6,558.0 612.4,541.0 622.3,526.0 632.1,546.3 642.0,558.0 651.8,560.5 661.6,560.5 671.5,560.5 681.3,558.0 691.2,541.0 701.0,497.6 710.8,558.0" fill="none" stroke="#2800f0" stroke-width="3" stroke-linejoin="miter" stroke-miterlimit="2"/>
<polyline points="91.0,560.5 100.8,560.5 110.7,560.5 120.5,560.5 130.3,560.5 140.2,560.5 150.0,560.5 159.9,560.5 169.7,560.5 179.5,560.5 189.4,560.5 199.2,559.5 209.0,556.0 218.9,552.7 228.7,555.5 238.6,559.0 248.4,560.5 258.2,560.5 268.1,560.5 277.9,560.5 287.8,560.5 297.6,559.5 307.4,558.5 317.3,556.0 327.1,553.7 337.0,546.5 346.8,544.5 356.6,539.5 366.5,539.0 376.3,522.0 386.2,522.0 396.0,545.5 405.8,552.9 415.7,549.0 425.5,548.5 435.3,556.0 445.2,557.5 455.0,554.0 464.9,551.6 474.7,556.5 484.5,556.0 494.4,556.0 504.2,556.5 514.1,557.2 523.9,555.8 533.7,553.1 543.6,555.8 553.4,552.0 563.3,547.0 573.1,538.5 582.9,538.2 592.8,543.6 602.6,547.7 612.4,541.5 622.3,542.3 632.1,547.5 642.0,546.3 651.8,537.5 661.6,538.2 671.5,547.7 681.3,550.4 691.2,543.6 701.0,543.6 710.8,551.8" fill="none" stroke="#808080" stroke-width="3" stroke-linejoin="miter" stroke-miterlimit="2"/>
<polyline points="100.8,560.5 110.7,560.5 120.5,560.5 130.3,560.5 140.2,560.5 150.0,560.5 159.9,560.5 169.7,560.5 179.5,560.5 189.4,560.5 199.2,559.5 209.0,549.0 218.9,493.4 228.7,557.5 238.6,560.5 248.4,560.5 258.2,560.5 268.1,560.5 277.9,560.5 287.8,560.5 297.6,560.5 307.4,560.5 317.3,560.5 327.1,560.5 337.0,560.5 346.8,555.0 356.6,535.0 366.5,559.5 376.3,555.0 386.2,551.0" fill="none" stroke="#00dc00" stroke-width="3" stroke-linejoin="miter" stroke-miterlimit="2"/>
<polyline points="100.8,175.8 110.7,169.1 120.5,172.0 130.3,175.2 140.2,158.0 150.0,154.0 159.9,163.0 169.7,164.9 179.5,152.5 189.4,149.0 199.2,161.0 209.0,176.5 218.9,171.0 228.7,172.0 238.6,181.0 248.4,189.0 258.2,177.0 268.1,171.9 277.9,180.3 287.8,185.9 297.6,168.4 307.4,164.2 317.3,174.7 327.1,178.9 337.0,175.0 346.8,181.5 356.6,188.4 366.5,197.1 376.3,193.0 386.2,194.4 396.0,200.0 405.8,206.0 415.7,197.0 425.5,190.5 435.3,192.2 445.2,194.7 455.0,182.4 464.9,177.5 474.7,184.9 484.5,186.5 494.4,172.5 504.2,168.4 514.1,175.8 523.9,179.1 533.7,159.3 543.6,156.0 553.4,162.5 563.3,166.7 573.1,158.4 582.9,172.4 592.8,187.2 602.6,210.0 612.4,215.3 622.3,213.6 632.1,223.1 642.0,231.7 651.8,213.6 661.6,207.6 671.5,211.0 681.3,212.8 691.2,205.9 701.0,214.5 710.8,221.4" fill="none" stroke="#2800f0" stroke-width="3" stroke-linejoin="miter" stroke-miterlimit="2"/>
<polyline points="100.8,175.8 110.7,169.1 120.5,172.0 130.3,175.2 140.2,158.0 150.0,154.0 159.9,163.0 169.7,164.9 179.5,153.0 189.4,149.6 199.2,160.7 209.0,177.5 218.9,172.6 228.7,174.7 238.6,183.0 248.4,191.5 258.2,180.3 268.1,175.4 277.9,182.4 287.8,188.7 297.6,174.7 307.4,171.9 317.3,177.5 327.1,181.7 337.0,174.7 346.8,179.0 356.6,186.2 366.5,194.4 376.3,188.9 386.2,186.7 396.0,193.3 405.8,198.2 415.7,190.0 425.5,181.6 435.3,188.5 445.2,193.0 455.0,179.5 464.9,175.0 474.7,180.0 484.5,183.2 494.4,169.3 504.2,164.3 514.1,170.9 523.9,171.8 533.7,160.9 543.6,158.4 553.4,164.2 563.3,168.3 573.1,165.0 582.9,166.7 592.8,177.3 602.6,186.4 612.4,182.2 622.3,182.5 632.1,186.8 642.0,192.0 651.8,184.2 661.6,183.4 671.5,190.3 681.3,197.6 691.2,191.5 701.0,190.3 710.8,198.5" fill="none" stroke="#808080" stroke-width="3" stroke-linejoin="miter" stroke-miterlimit="2"/>
<polyline points="91.0,160.5 106.0,160.3 110.0,159.8 155.0,159.8 165.0,161.0 190.0,164.5 210.0,166.8 230.0,168.5 250.0,170.0 263.0,170.5 300.0,170.7 330.0,170.3 350.0,168.0 386.0,166.4 410.0,164.8 420.0,163.0 430.0,161.5 450.0,159.7 470.0,158.7 493.0,159.2 500.0,160.2 530.0,164.0 550.0,166.5 573.0,168.5 600.0,171.5 643.0,172.0 670.0,171.0 690.0,173.5 711.0,176.0" fill="none" stroke="#e00000" stroke-width="3.5" stroke-linejoin="miter" stroke-miterlimit="2"/>
<polyline points="91.0,184.4 100.8,164.3 110.7,161.7 120.5,165.1 130.3,167.8 140.2,150.0 150.0,147.1 159.9,160.5 169.7,174.7 179.5,162.8 189.4,169.1 199.2,170.5 209.0,183.0 218.9,195.4 228.7,197.0 238.6,208.2 248.4,209.3 258.2,196.0 268.1,199.1 277.9,203.3 287.8,209.6 297.6,191.5 307.4,189.4 317.3,191.5 327.1,197.7 337.0,182.4 346.8,187.3 356.6,205.9 366.5,206.4 376.3,193.3 384.8,201.5" fill="none" stroke="#00dc00" stroke-width="3" stroke-linejoin="miter" stroke-miterlimit="2"/>
<polyline points="400.9,221.6 420.3,203.6 439.7,201.5 459.1,190.0 478.5,196.0 497.8,175.0 517.2,182.0 536.6,161.0 556.0,177.0 575.4,168.0 594.8,183.5 614.2,166.0 633.6,173.5 653.0,158.0 672.4,166.5 691.8,160.0 711.0,170.5" fill="none" stroke="#00dc00" stroke-width="3" stroke-linejoin="miter" stroke-miterlimit="2"/></g>
<g stroke="#000" stroke-width="1" shape-rendering="crispEdges"><rect x="90.5" y="48.5" width="621" height="511" fill="none"/><line x1="87" y1="559.5" x2="91" y2="559.5"/><line x1="87" y1="516.5" x2="91" y2="516.5"/><line x1="87" y1="474.5" x2="91" y2="474.5"/><line x1="87" y1="431.5" x2="91" y2="431.5"/><line x1="87" y1="389.5" x2="91" y2="389.5"/><line x1="87" y1="346.5" x2="91" y2="346.5"/><line x1="87" y1="304.5" x2="91" y2="304.5"/><line x1="87" y1="261.5" x2="91" y2="261.5"/><line x1="87" y1="218.5" x2="91" y2="218.5"/><line x1="87" y1="176.5" x2="91" y2="176.5"/><line x1="87" y1="133.5" x2="91" y2="133.5"/><line x1="87" y1="91.5" x2="91" y2="91.5"/><line x1="87" y1="48.5" x2="91" y2="48.5"/><line x1="711" y1="559.5" x2="715" y2="559.5"/><line x1="711" y1="508.5" x2="715" y2="508.5"/><line x1="711" y1="457.5" x2="715" y2="457.5"/><line x1="711" y1="406.5" x2="715" y2="406.5"/><line x1="711" y1="355.5" x2="715" y2="355.5"/><line x1="711" y1="304.5" x2="715" y2="304.5"/><line x1="711" y1="252.5" x2="715" y2="252.5"/><line x1="711" y1="201.5" x2="715" y2="201.5"/><line x1="711" y1="150.5" x2="715" y2="150.5"/><line x1="711" y1="99.5" x2="715" y2="99.5"/><line x1="711" y1="48.5" x2="715" y2="48.5"/><line x1="120.5" y1="559" x2="120.5" y2="563"/><line x1="198.5" y1="559" x2="198.5" y2="563"/><line x1="277.5" y1="559" x2="277.5" y2="563"/><line x1="356.5" y1="559" x2="356.5" y2="563"/><line x1="435.5" y1="559" x2="435.5" y2="563"/><line x1="514.5" y1="559" x2="514.5" y2="563"/><line x1="592.5" y1="559" x2="592.5" y2="563"/><line x1="671.5" y1="559" x2="671.5" y2="563"/></g>
<g clip-path="url(#plotclip)" shape-rendering="crispEdges"><polyline points="400.9,509.8 420.3,493.7 439.7,559.5 459.1,526.2 478.5,558.5 497.8,559.5 517.2,559.5 536.6,559.5 556.0,559.5 575.4,559.5 594.8,559.5 614.2,559.5 633.6,559.5 653.0,559.5 672.4,559.5 691.8,559.5 711.0,559.5" fill="none" stroke="#00dc00" stroke-width="3" stroke-linejoin="miter" stroke-miterlimit="2"/></g>
<rect x="528.5" y="48.5" width="183" height="73" fill="#fff" stroke="#000" stroke-width="1" shape-rendering="crispEdges"/>
<line x1="549" y1="63.5" x2="589" y2="63.5" stroke="#e00000" stroke-width="3"/>
<line x1="549" y1="77.5" x2="589" y2="77.5" stroke="#2800f0" stroke-width="3"/>
<line x1="549" y1="92.5" x2="589" y2="92.5" stroke="#00dc00" stroke-width="3"/>
<line x1="549" y1="107.5" x2="589" y2="107.5" stroke="#808080" stroke-width="3"/>
<g font-family="Liberation Sans, sans-serif">
<text x="17.7" y="14.0" font-size="15.5" fill="#000" textLength="66.81" lengthAdjust="spacingAndGlyphs" font-weight="200" font-family="DejaVu Sans, sans-serif" stroke="#000" stroke-width="0.45">Position</text>
<text x="104.9" y="14.0" font-size="15.5" fill="#000" textLength="27.69" lengthAdjust="spacingAndGlyphs" font-weight="200" font-family="DejaVu Sans, sans-serif" stroke="#000" stroke-width="0.45">Lat:</text>
<text x="147.7" y="14.0" font-size="15.5" fill="#000" textLength="22.04" lengthAdjust="spacingAndGlyphs" font-weight="200" font-family="DejaVu Sans, sans-serif" stroke="#000" stroke-width="0.45">43</text>
<text x="175.9" y="14.0" font-size="15.5" fill="#000" textLength="37.29" lengthAdjust="spacingAndGlyphs" font-weight="200" font-family="DejaVu Sans, sans-serif" stroke="#000" stroke-width="0.45">Lon:</text>
<text x="226.4" y="14.0" font-size="15.5" fill="#000" textLength="19.04" lengthAdjust="spacingAndGlyphs" font-weight="200" font-family="DejaVu Sans, sans-serif" stroke="#000" stroke-width="0.45">12</text>
<text x="123.1" y="36.0" font-size="25" fill="#000" textLength="44.03" lengthAdjust="spacingAndGlyphs" font-weight="200" font-family="DejaVu Sans, sans-serif" stroke="#000" stroke-width="0.55">850</text>
<text x="180.6" y="36.0" font-size="25" fill="#000" textLength="41.82" lengthAdjust="spacingAndGlyphs" font-weight="200" font-family="DejaVu Sans, sans-serif" stroke="#000" stroke-width="0.55">hPa</text>
<text x="237.2" y="36.0" font-size="25" fill="#000" textLength="64.84" lengthAdjust="spacingAndGlyphs" font-weight="200" font-family="DejaVu Sans, sans-serif" stroke="#000" stroke-width="0.55">Temp.</text>
<text x="317.7" y="36.0" font-size="25" fill="#000" textLength="19.2" lengthAdjust="spacingAndGlyphs" font-weight="200" font-family="DejaVu Sans, sans-serif" stroke="#000" stroke-width="0.55">in</text>
<text x="349.5" y="36.0" font-size="25" fill="#000" textLength="35.84" lengthAdjust="spacingAndGlyphs" font-weight="200" font-family="DejaVu Sans, sans-serif" stroke="#000" stroke-width="0.55">°C,</text>
<text x="396.8" y="36.0" font-size="25" fill="#000" textLength="192.35" lengthAdjust="spacingAndGlyphs" font-weight="200" font-family="DejaVu Sans, sans-serif" stroke="#000" stroke-width="0.55">6h-Niederschlag</text>
<text x="601.7" y="36.0" font-size="25" fill="#000" textLength="19.8" lengthAdjust="spacingAndGlyphs" font-weight="200" font-family="DejaVu Sans, sans-serif" stroke="#000" stroke-width="0.55">in</text>
<text x="634.5" y="36.0" font-size="25" fill="#000" textLength="43.74" lengthAdjust="spacingAndGlyphs" font-weight="200" font-family="DejaVu Sans, sans-serif" stroke="#000" stroke-width="0.55">mm</text>
<text x="491.9" y="13.0" font-size="16" fill="#000" textLength="137.38" lengthAdjust="spacingAndGlyphs" font-weight="bold">Mon,06AUG2007</text>
<text x="640.2" y="13.0" font-size="16" fill="#000" textLength="32.25" lengthAdjust="spacingAndGlyphs" font-weight="bold">06Z</text>
<text x="91.1" y="608.0" font-size="12.5" fill="#000" textLength="42.12" lengthAdjust="spacingAndGlyphs" font-weight="200" font-family="DejaVu Sans, sans-serif" stroke="#000" stroke-width="0.35">Daten:</text>
<text x="141.3" y="608.0" font-size="12.5" fill="#000" textLength="72.85" lengthAdjust="spacingAndGlyphs" font-weight="200" font-family="DejaVu Sans, sans-serif" stroke="#000" stroke-width="0.35">Ensembles</text>
<text x="221.9" y="608.0" font-size="12.5" fill="#000" textLength="23.09" lengthAdjust="spacingAndGlyphs" font-weight="200" font-family="DejaVu Sans, sans-serif" stroke="#000" stroke-width="0.35">des</text>
<text x="253.9" y="608.0" font-size="12.5" fill="#000" textLength="24.59" lengthAdjust="spacingAndGlyphs" font-weight="200" font-family="DejaVu Sans, sans-serif" stroke="#000" stroke-width="0.35">GFS</text>
<text x="286.4" y="608.0" font-size="12.5" fill="#000" textLength="24.61" lengthAdjust="spacingAndGlyphs" font-weight="200" font-family="DejaVu Sans, sans-serif" stroke="#000" stroke-width="0.35">von</text>
<text x="318.8" y="608.0" font-size="12.5" fill="#000" textLength="35.72" lengthAdjust="spacingAndGlyphs" font-weight="200" font-family="DejaVu Sans, sans-serif" stroke="#000" stroke-width="0.35">NCEP</text>
<text x="601.3" y="608.3" font-size="12.5" fill="#000" textLength="120.8" lengthAdjust="spacingAndGlyphs" font-weight="200" font-family="DejaVu Sans, sans-serif" stroke="#000" stroke-width="0.35">Wetterzentrale</text>
<text x="604.6" y="67.3" font-size="11" fill="#000" textLength="102.38" lengthAdjust="spacingAndGlyphs" font-weight="200" font-family="DejaVu Sans, sans-serif" stroke="#000" stroke-width="0.35">30-Jahres-Mittel</text>
<text x="603.5" y="82.2" font-size="11" fill="#000" textLength="78.7" lengthAdjust="spacingAndGlyphs" font-weight="200" font-family="DejaVu Sans, sans-serif" stroke="#000" stroke-width="0.35">Kontroll-Lauf</text>
<text x="604.7" y="97.0" font-size="11" fill="#000" textLength="85.27" lengthAdjust="spacingAndGlyphs" font-weight="200" font-family="DejaVu Sans, sans-serif" stroke="#000" stroke-width="0.35">GFS-Hauptlauf</text>
<text x="604.7" y="111.8" font-size="11" fill="#000" textLength="94.44" lengthAdjust="spacingAndGlyphs" font-weight="200" font-family="DejaVu Sans, sans-serif" stroke="#000" stroke-width="0.35">Ensemble-Mittel</text>
<text x="84.0" y="563.7" font-size="11" fill="#000" text-anchor="end" textLength="20" lengthAdjust="spacingAndGlyphs" font-family="DejaVu Sans, sans-serif" font-weight="200" stroke="#000" stroke-width="0.3">-30</text>
<text x="84.0" y="520.7" font-size="11" fill="#000" text-anchor="end" textLength="20" lengthAdjust="spacingAndGlyphs" font-family="DejaVu Sans, sans-serif" font-weight="200" stroke="#000" stroke-width="0.3">-25</text>
<text x="84.0" y="478.7" font-size="11" fill="#000" text-anchor="end" textLength="20" lengthAdjust="spacingAndGlyphs" font-family="DejaVu Sans, sans-serif" font-weight="200" stroke="#000" stroke-width="0.3">-20</text>
<text x="84.0" y="435.7" font-size="11" fill="#000" text-anchor="end" textLength="20" lengthAdjust="spacingAndGlyphs" font-family="DejaVu Sans, sans-serif" font-weight="200" stroke="#000" stroke-width="0.3">-15</text>
<text x="84.0" y="393.7" font-size="11" fill="#000" text-anchor="end" textLength="20" lengthAdjust="spacingAndGlyphs" font-family="DejaVu Sans, sans-serif" font-weight="200" stroke="#000" stroke-width="0.3">-10</text>
<text x="84.0" y="350.7" font-size="11" fill="#000" text-anchor="end" textLength="14" lengthAdjust="spacingAndGlyphs" font-family="DejaVu Sans, sans-serif" font-weight="200" stroke="#000" stroke-width="0.3">-5</text>
<text x="84.0" y="308.7" font-size="11" fill="#000" text-anchor="end" textLength="6" lengthAdjust="spacingAndGlyphs" font-family="DejaVu Sans, sans-serif" font-weight="200" stroke="#000" stroke-width="0.3">0</text>
<text x="84.0" y="265.7" font-size="11" fill="#000" text-anchor="end" textLength="6" lengthAdjust="spacingAndGlyphs" font-family="DejaVu Sans, sans-serif" font-weight="200" stroke="#000" stroke-width="0.3">5</text>
<text x="84.0" y="222.7" font-size="11" fill="#000" text-anchor="end" textLength="12" lengthAdjust="spacingAndGlyphs" font-family="DejaVu Sans, sans-serif" font-weight="200" stroke="#000" stroke-width="0.3">10</text>
<text x="84.0" y="180.7" font-size="11" fill="#000" text-anchor="end" textLength="12" lengthAdjust="spacingAndGlyphs" font-family="DejaVu Sans, sans-serif" font-weight="200" stroke="#000" stroke-width="0.3">15</text>
<text x="84.0" y="137.7" font-size="11" fill="#000" text-anchor="end" textLength="12" lengthAdjust="spacingAndGlyphs" font-family="DejaVu Sans, sans-serif" font-weight="200" stroke="#000" stroke-width="0.3">20</text>
<text x="84.0" y="95.7" font-size="11" fill="#000" text-anchor="end" textLength="12" lengthAdjust="spacingAndGlyphs" font-family="DejaVu Sans, sans-serif" font-weight="200" stroke="#000" stroke-width="0.3">25</text>
<text x="84.0" y="52.7" font-size="11" fill="#000" text-anchor="end" textLength="12" lengthAdjust="spacingAndGlyphs" font-family="DejaVu Sans, sans-serif" font-weight="200" stroke="#000" stroke-width="0.3">30</text>
<text x="718.0" y="563.7" font-size="11" fill="#000" textLength="5.5" lengthAdjust="spacingAndGlyphs" font-family="DejaVu Sans, sans-serif" font-weight="200" stroke="#000" stroke-width="0.3">0</text>
<text x="718.0" y="512.7" font-size="11" fill="#000" textLength="5.5" lengthAdjust="spacingAndGlyphs" font-family="DejaVu Sans, sans-serif" font-weight="200" stroke="#000" stroke-width="0.3">5</text>
<text x="718.0" y="461.7" font-size="11" fill="#000" textLength="11.5" lengthAdjust="spacingAndGlyphs" font-family="DejaVu Sans, sans-serif" font-weight="200" stroke="#000" stroke-width="0.3">10</text>
<text x="718.0" y="410.7" font-size="11" fill="#000" textLength="11.5" lengthAdjust="spacingAndGlyphs" font-family="DejaVu Sans, sans-serif" font-weight="200" stroke="#000" stroke-width="0.3">15</text>
<text x="718.0" y="359.7" font-size="11" fill="#000" textLength="11.5" lengthAdjust="spacingAndGlyphs" font-family="DejaVu Sans, sans-serif" font-weight="200" stroke="#000" stroke-width="0.3">20</text>
<text x="718.0" y="308.7" font-size="11" fill="#000" textLength="11.5" lengthAdjust="spacingAndGlyphs" font-family="DejaVu Sans, sans-serif" font-weight="200" stroke="#000" stroke-width="0.3">25</text>
<text x="718.0" y="256.7" font-size="11" fill="#000" textLength="11.5" lengthAdjust="spacingAndGlyphs" font-family="DejaVu Sans, sans-serif" font-weight="200" stroke="#000" stroke-width="0.3">30</text>
<text x="718.0" y="205.7" font-size="11" fill="#000" textLength="11.5" lengthAdjust="spacingAndGlyphs" font-family="DejaVu Sans, sans-serif" font-weight="200" stroke="#000" stroke-width="0.3">35</text>
<text x="718.0" y="154.7" font-size="11" fill="#000" textLength="11.5" lengthAdjust="spacingAndGlyphs" font-family="DejaVu Sans, sans-serif" font-weight="200" stroke="#000" stroke-width="0.3">40</text>
<text x="718.0" y="103.7" font-size="11" fill="#000" textLength="11.5" lengthAdjust="spacingAndGlyphs" font-family="DejaVu Sans, sans-serif" font-weight="200" stroke="#000" stroke-width="0.3">45</text>
<text x="718.0" y="52.7" font-size="11" fill="#000" textLength="11.5" lengthAdjust="spacingAndGlyphs" font-family="DejaVu Sans, sans-serif" font-weight="200" stroke="#000" stroke-width="0.3">50</text>
<text x="121.2" y="574.0" font-size="11" fill="#000" text-anchor="middle" textLength="27" lengthAdjust="spacingAndGlyphs" font-family="DejaVu Sans, sans-serif" font-weight="200" stroke="#000" stroke-width="0.3">7AUG</text>
<text x="199.2" y="574.0" font-size="11" fill="#000" text-anchor="middle" textLength="27" lengthAdjust="spacingAndGlyphs" font-family="DejaVu Sans, sans-serif" font-weight="200" stroke="#000" stroke-width="0.3">9AUG</text>
<text x="278.2" y="574.0" font-size="11" fill="#000" text-anchor="middle" textLength="33" lengthAdjust="spacingAndGlyphs" font-family="DejaVu Sans, sans-serif" font-weight="200" stroke="#000" stroke-width="0.3">11AUG</text>
<text x="357.2" y="574.0" font-size="11" fill="#000" text-anchor="middle" textLength="33" lengthAdjust="spacingAndGlyphs" font-family="DejaVu Sans, sans-serif" font-weight="200" stroke="#000" stroke-width="0.3">13AUG</text>
<text x="436.2" y="574.0" font-size="11" fill="#000" text-anchor="middle" textLength="33" lengthAdjust="spacingAndGlyphs" font-family="DejaVu Sans, sans-serif" font-weight="200" stroke="#000" stroke-width="0.3">15AUG</text>
<text x="515.2" y="574.0" font-size="11" fill="#000" text-anchor="middle" textLength="33" lengthAdjust="spacingAndGlyphs" font-family="DejaVu Sans, sans-serif" font-weight="200" stroke="#000" stroke-width="0.3">17AUG</text>
<text x="593.2" y="574.0" font-size="11" fill="#000" text-anchor="middle" textLength="33" lengthAdjust="spacingAndGlyphs" font-family="DejaVu Sans, sans-serif" font-weight="200" stroke="#000" stroke-width="0.3">19AUG</text>
<text x="672.2" y="574.0" font-size="11" fill="#000" text-anchor="middle" textLength="33" lengthAdjust="spacingAndGlyphs" font-family="DejaVu Sans, sans-serif" font-weight="200" stroke="#000" stroke-width="0.3">21AUG</text>
<text x="120.5" y="585.0" font-size="11" fill="#000" text-anchor="middle" textLength="25" lengthAdjust="spacingAndGlyphs" font-family="DejaVu Sans, sans-serif" font-weight="200" stroke="#000" stroke-width="0.3">2007</text>
<text x="-1.3" y="108.0" font-size="11" fill="#3c00ff" textLength="17" lengthAdjust="spacingAndGlyphs" font-family="DejaVu Sans, sans-serif" font-weight="200" stroke="#3c00ff" stroke-width="0.3">P0</text>
<text x="-1.3" y="126.0" font-size="11" fill="#0020ff" textLength="17" lengthAdjust="spacingAndGlyphs" font-family="DejaVu Sans, sans-serif" font-weight="200" stroke="#0020ff" stroke-width="0.3">P1</text>
<text x="-1.3" y="144.0" font-size="11" fill="#0060ff" textLength="17" lengthAdjust="spacingAndGlyphs" font-family="DejaVu Sans, sans-serif" font-weight="200" stroke="#0060ff" stroke-width="0.3">P2</text>
<text x="-1.3" y="162.0" font-size="11" fill="#00a0ff" textLength="17" lengthAdjust="spacingAndGlyphs" font-family="DejaVu Sans, sans-serif" font-weight="200" stroke="#00a0ff" stroke-width="0.3">P3</text>
<text x="-1.3" y="180.0" font-size="11" fill="#00c8ff" textLength="17" lengthAdjust="spacingAndGlyphs" font-family="DejaVu Sans, sans-serif" font-weight="200" stroke="#00c8ff" stroke-width="0.3">P4</text>
<text x="-1.3" y="198.0" font-size="11" fill="#00e0e0" textLength="17" lengthAdjust="spacingAndGlyphs" font-family="DejaVu Sans, sans-serif" font-weight="200" stroke="#00e0e0" stroke-width="0.3">P5</text>
<text x="-1.3" y="216.0" font-size="11" fill="#00e0a0" textLength="17" lengthAdjust="spacingAndGlyphs" font-family="DejaVu Sans, sans-serif" font-weight="200" stroke="#00e0a0" stroke-width="0.3">P6</text>
<text x="-1.3" y="234.0" font-size="11" fill="#00d870" textLength="17" lengthAdjust="spacingAndGlyphs" font-family="DejaVu Sans, sans-serif" font-weight="200" stroke="#00d870" stroke-width="0.3">P7</text>
<text x="-1.3" y="252.0" font-size="11" fill="#00e040" textLength="17" lengthAdjust="spacingAndGlyphs" font-family="DejaVu Sans, sans-serif" font-weight="200" stroke="#00e040" stroke-width="0.3">P8</text>
<text x="-1.3" y="270.0" font-size="11" fill="#20e000" textLength="17" lengthAdjust="spacingAndGlyphs" font-family="DejaVu Sans, sans-serif" font-weight="200" stroke="#20e000" stroke-width="0.3">P9</text>
<text x="-0.6" y="288.0" font-size="11" fill="#40e000" textLength="23.2" lengthAdjust="spacingAndGlyphs" font-family="DejaVu Sans, sans-serif" font-weight="200" stroke="#40e000" stroke-width="0.3">P10</text>
<text x="-0.6" y="306.0" font-size="11" fill="#fff000" textLength="23.2" lengthAdjust="spacingAndGlyphs" font-family="DejaVu Sans, sans-serif" font-weight="200" stroke="#fff000" stroke-width="0.3">P11</text>
<text x="-0.6" y="324.0" font-size="11" fill="#ffd800" textLength="23.2" lengthAdjust="spacingAndGlyphs" font-family="DejaVu Sans, sans-serif" font-weight="200" stroke="#ffd800" stroke-width="0.3">P12</text>
<text x="-0.6" y="342.0" font-size="11" fill="#ffc000" textLength="23.2" lengthAdjust="spacingAndGlyphs" font-family="DejaVu Sans, sans-serif" font-weight="200" stroke="#ffc000" stroke-width="0.3">P13</text>
<text x="-0.6" y="360.0" font-size="11" fill="#f0a000" textLength="23.2" lengthAdjust="spacingAndGlyphs" font-family="DejaVu Sans, sans-serif" font-weight="200" stroke="#f0a000" stroke-width="0.3">P14</text>
<text x="-0.6" y="378.0" font-size="11" fill="#f09000" textLength="23.2" lengthAdjust="spacingAndGlyphs" font-family="DejaVu Sans, sans-serif" font-weight="200" stroke="#f09000" stroke-width="0.3">P15</text>
<text x="-0.6" y="396.0" font-size="11" fill="#e07000" textLength="23.2" lengthAdjust="spacingAndGlyphs" font-family="DejaVu Sans, sans-serif" font-weight="200" stroke="#e07000" stroke-width="0.3">P16</text>
<text x="-0.6" y="414.0" font-size="11" fill="#e06000" textLength="23.2" lengthAdjust="spacingAndGlyphs" font-family="DejaVu Sans, sans-serif" font-weight="200" stroke="#e06000" stroke-width="0.3">P17</text>
<text x="-0.6" y="432.0" font-size="11" fill="#d04000" textLength="23.2" lengthAdjust="spacingAndGlyphs" font-family="DejaVu Sans, sans-serif" font-weight="200" stroke="#d04000" stroke-width="0.3">P18</text>
<text x="-0.6" y="450.0" font-size="11" fill="#c02000" textLength="23.2" lengthAdjust="spacingAndGlyphs" font-family="DejaVu Sans, sans-serif" font-weight="200" stroke="#c02000" stroke-width="0.3">P19</text>
<text x="-0.6" y="468.0" font-size="11" fill="#b00000" textLength="23.2" lengthAdjust="spacingAndGlyphs" font-family="DejaVu Sans, sans-serif" font-weight="200" stroke="#b00000" stroke-width="0.3">P20</text>
</g>
</svg></body></html>
